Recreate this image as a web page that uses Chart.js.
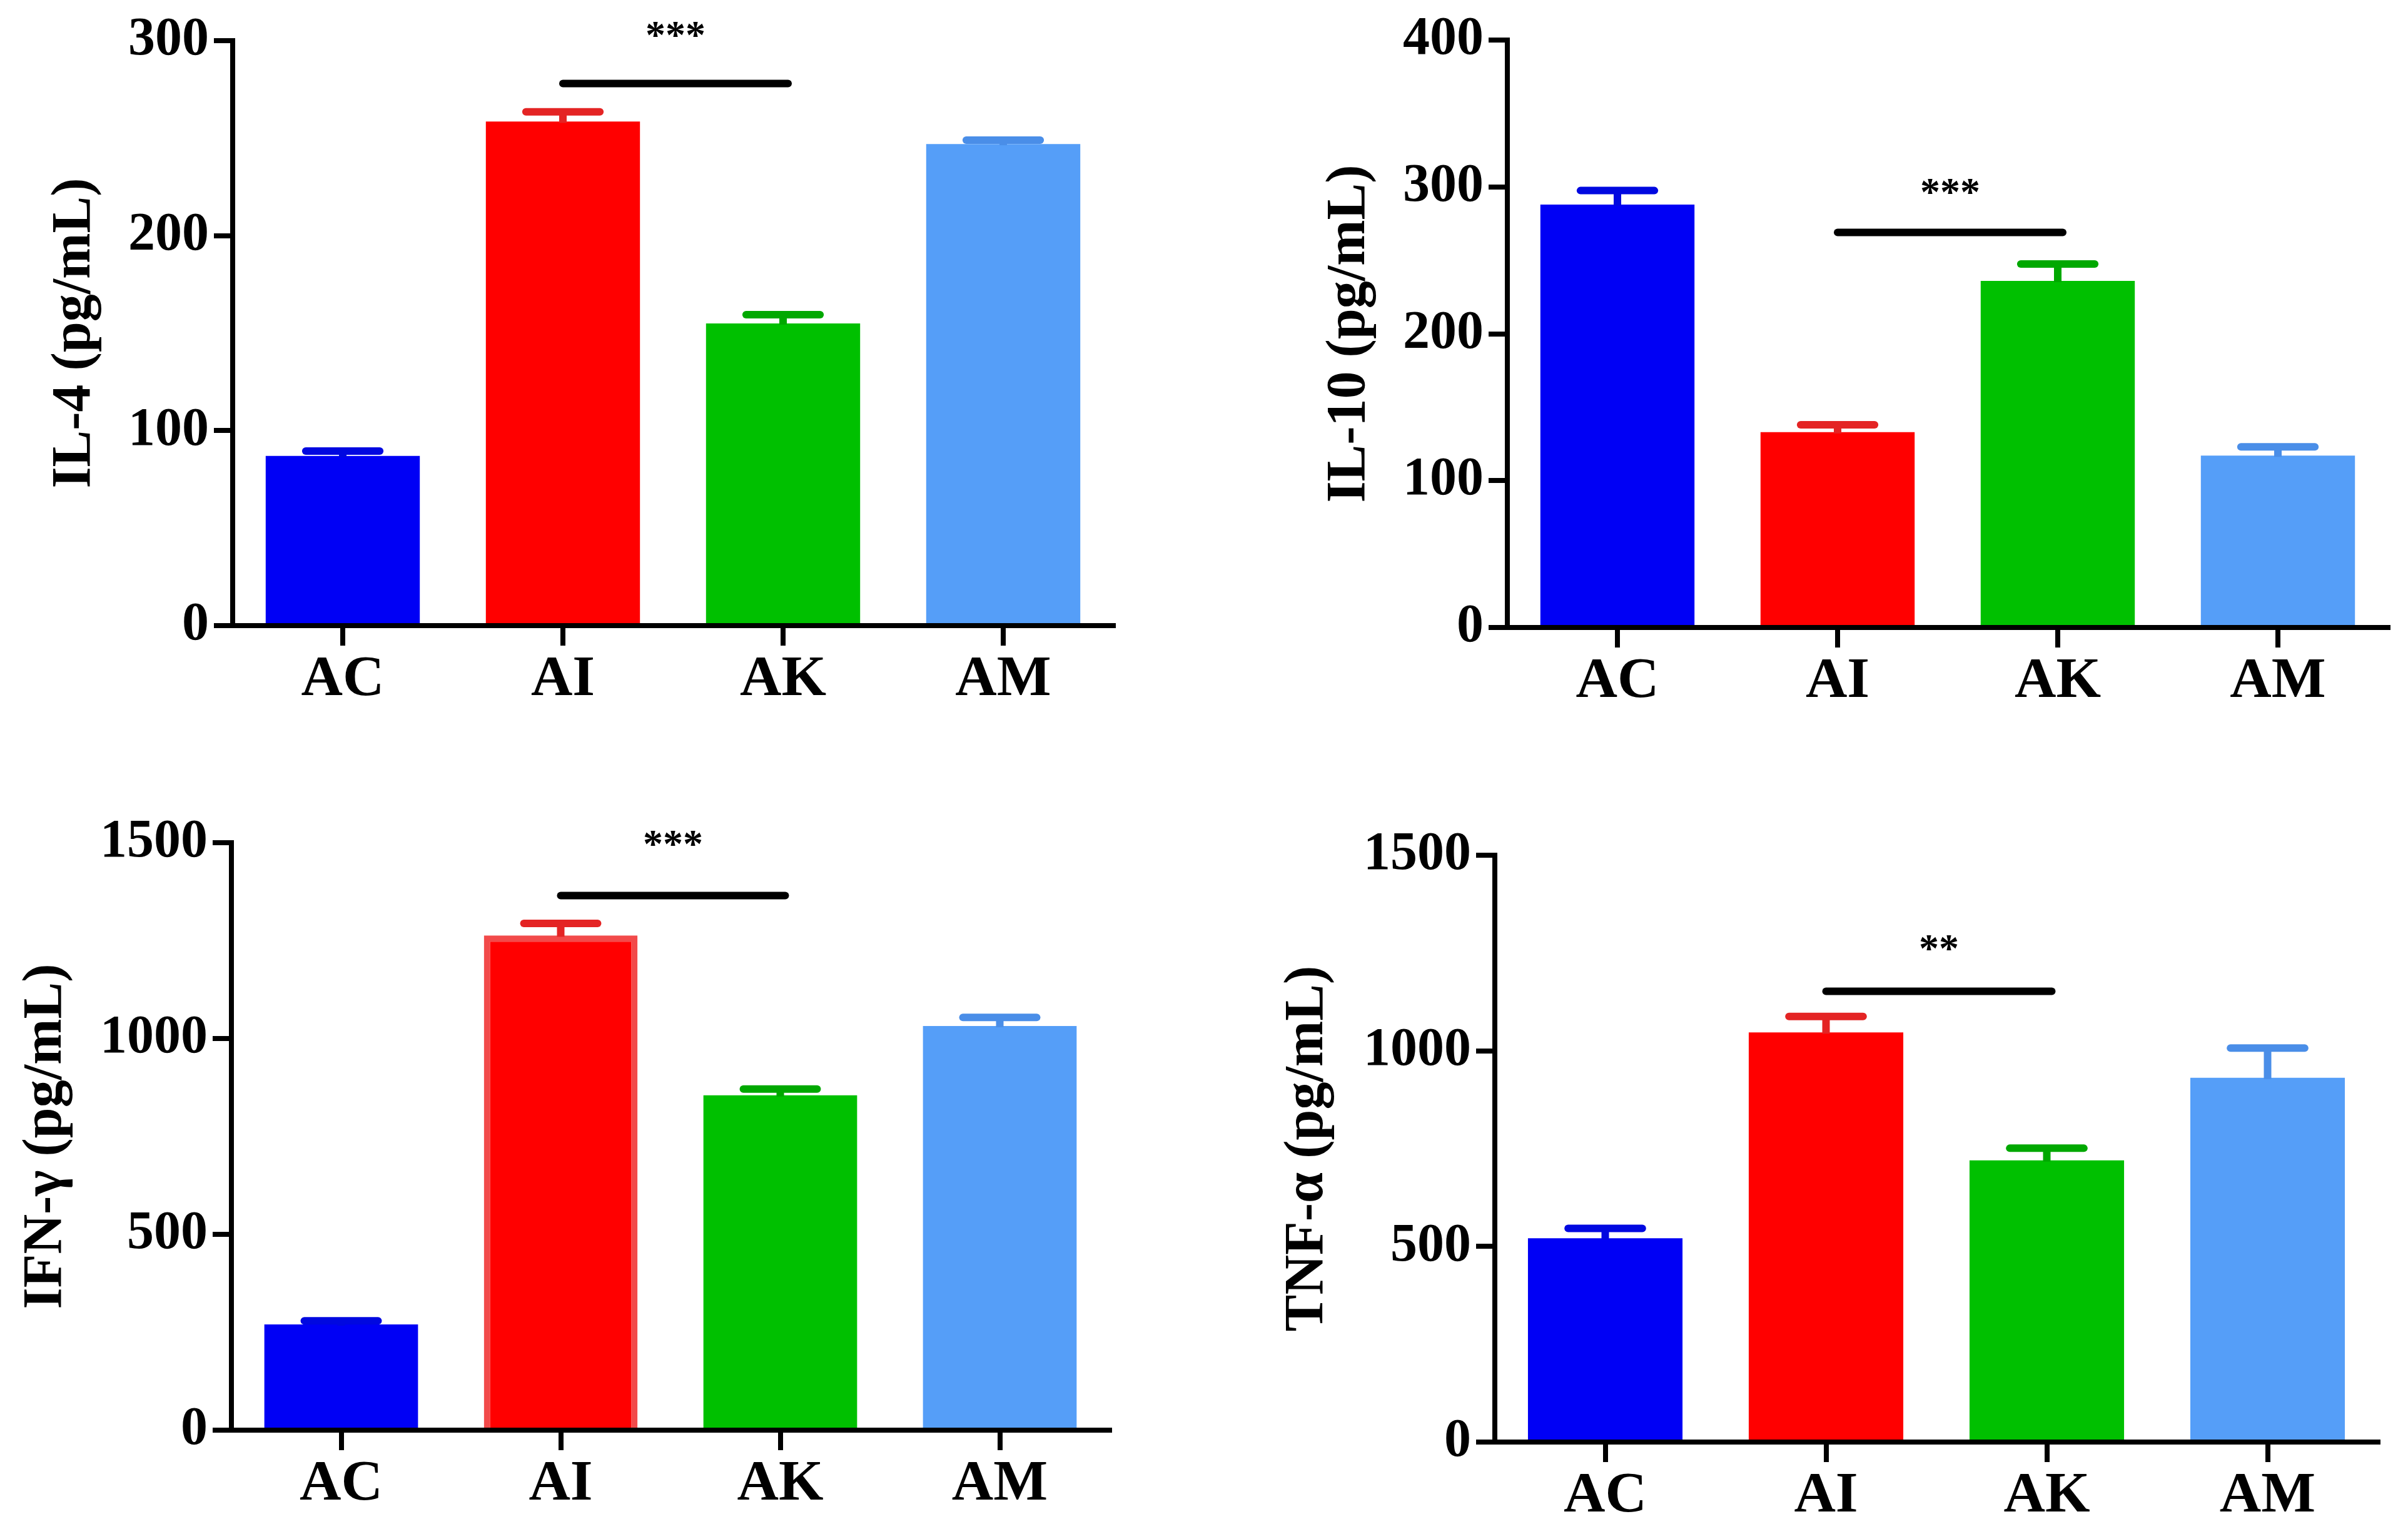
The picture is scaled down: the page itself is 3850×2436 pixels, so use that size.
<!DOCTYPE html>
<html lang="en">
<head>
<meta charset="UTF-8">
<title>Cytokines</title>
<script src="https://cdn.jsdelivr.net/npm/chart.js"></script>
<style>
  body { margin: 0; background: #fff; }
  canvas { position: absolute; }
</style>
</head>
<body>
<canvas id="chartIL4" width="1925" height="1218" style="left:0;top:0"></canvas>
<canvas id="chartIL10" width="1925" height="1218" style="left:1925px;top:0"></canvas>
<canvas id="chartIFN" width="1925" height="1218" style="left:0;top:1218px"></canvas>
<canvas id="chartTNF" width="1925" height="1218" style="left:1925px;top:1218px"></canvas>
<script>
const groups = ['AC', 'AI', 'AK', 'AM'];
const barColors = ['#0000f5', '#ff0000', '#00c000', '#559ef8'];
const errColors = ['#0008e0', '#e42424', '#00a800', '#4a8ee8'];

const il4Mean = [87, 258.5, 155, 247];
const il4Err = [2.5, 5, 4.5, 2];
const il4Ticks = [0, 100, 200, 300];

const il10Mean = [288, 133, 236, 117];
const il10Err = [9.5, 5, 11.5, 6];
const il10Ticks = [0, 100, 200, 300, 400];

const ifnMean = [270, 1263, 855, 1032];
const ifnErr = [9, 31, 16, 22];
const ifnTicks = [0, 500, 1000, 1500];

const tnfMean = [521, 1047, 720, 931];
const tnfErr = [25, 41, 31, 76];
const tnfTicks = [0, 500, 1000, 1500];

// significance bar between AI and AK
const sigText = ['***', '***', '***', '**'];
const sigLineAt = [278, 269, 1365, 1152];
const sigTextAt = [307, 302, 1518, 1283];

const serif = 'Liberation Serif';

const errorBars = {
    id: 'errorBars',
    afterDatasetsDraw(chart, args, opts) {
        const ctx = chart.ctx
        const y = chart.scales.y
        const meta = chart.getDatasetMeta(0)
        ctx.save()
        meta.data.forEach(function (bar, i) {
            const top = y.getPixelForValue(opts.mean[i] + opts.err[i])
            const half = bar.width * 0.24
            ctx.strokeStyle = errColors[i]
            ctx.lineWidth = 12
            ctx.lineCap = 'butt'
            ctx.beginPath()
            ctx.moveTo(bar.x, bar.y + 2)
            ctx.lineTo(bar.x, top)
            ctx.stroke()
            ctx.lineCap = 'round'
            ctx.beginPath()
            ctx.moveTo(bar.x - half, top)
            ctx.lineTo(bar.x + half, top)
            ctx.stroke()
        })

        // significance line + stars
        const a = meta.data[1].x
        const b = meta.data[2].x + 8
        const ly = y.getPixelForValue(opts.line)
        ctx.strokeStyle = '#000'
        ctx.lineWidth = 12
        ctx.lineCap = 'round'
        ctx.beginPath()
        ctx.moveTo(a, ly)
        ctx.lineTo(b, ly)
        ctx.stroke()

        ctx.fillStyle = '#000'
        ctx.font = 'bold 64px "' + serif + '"'
        ctx.textAlign = 'center'
        ctx.textBaseline = 'alphabetic'
        ctx.fillText(opts.text, (a + b) / 2, y.getPixelForValue(opts.textAt) + 34)
        ctx.restore()
    }
}

function makeChart(id, title, mean, err, ticks, n, box, borderW) {
    new Chart(document.getElementById(id), {
        type: 'bar',
        data: {
            labels: groups,
            datasets: [
                {
                    data: mean,
                    backgroundColor: barColors,
                    borderColor: ['#0000f5', '#f24a4a', '#00c000', '#559ef8'],
                    borderWidth: borderW,
                    borderSkipped: 'bottom',
                    categoryPercentage: 1.0,
                    barPercentage: 0.70
                }
            ]
        },
        plugins: [errorBars],
        options: {
            responsive: false,
            devicePixelRatio: 1,
            animation: false,
            layout: {
                padding: { left: box.padL, right: box.padR, top: box.padT, bottom: box.padB }
            },
            plugins: {
                legend: { display: false },
                tooltip: { enabled: false },
                errorBars: { mean: mean, err: err, line: sigLineAt[n], text: sigText[n], textAt: sigTextAt[n] }
            },
            scales: {
                x: {
                    offset: true,
                    afterFit: function (scale) { scale.height = box.xH },
                    grid: {
                        offset: false,
                        drawOnChartArea: false,
                        drawTicks: true,
                        tickLength: 32,
                        tickWidth: 8,
                        tickColor: '#000',
                        lineWidth: 8,
                        color: '#000'
                    },
                    border: { display: true, color: '#000', width: 8 },
                    ticks: {
                        padding: 0,
                        color: '#000',
                        font: { family: serif, size: 92, weight: 'bold' }
                    }
                },
                y: {
                    min: ticks[0],
                    max: ticks[ticks.length - 1],
                    afterFit: function (scale) { scale.width = box.yW },
                    afterBuildTicks: function (scale) {
                        scale.ticks = ticks.map(function (v) { return { value: v } })
                    },
                    grid: {
                        drawOnChartArea: false,
                        drawTicks: true,
                        tickLength: 30,
                        tickWidth: 8,
                        tickColor: '#000',
                        lineWidth: 8,
                        color: '#000'
                    },
                    border: { display: true, color: '#000', width: 8 },
                    ticks: {
                        padding: 8,
                        color: '#000',
                        callback: function (v) { return String(v) },
                        font: { family: serif, size: 86, weight: 'bold' }
                    },
                    title: {
                        display: true,
                        text: title,
                        color: '#000',
                        padding: 0,
                        font: { family: serif, size: 88, weight: 'bold' }
                    }
                }
            }
        }
    });
}

makeChart('chartIL4', 'IL-4 (pg/mL)', il4Mean, il4Err, il4Ticks, 0,
    { padL: 67, yW: 305, padR: 145, padT: 65, xH: 150, padB: 68 }, 0)
makeChart('chartIL10', 'IL-10 (pg/mL)', il10Mean, il10Err, il10Ticks, 1,
    { padL: 180, yW: 305, padR: 32, padT: 64, xH: 150, padB: 65 }, 0)
makeChart('chartIFN', 'IFN-\u03b3 (pg/mL)', ifnMean, ifnErr, ifnTicks, 2,
    { padL: 21, yW: 349, padR: 151, padT: 129, xH: 140, padB: 10 }, [0, 10, 0, 0])
makeChart('chartTNF', 'TNF-\u03b1 (pg/mL)', tnfMean, tnfErr, tnfTicks, 3,
    { padL: 113, yW: 352, padR: 48, padT: 149, xH: 131, padB: 0 }, 0)
</script>
</body>
</html>
